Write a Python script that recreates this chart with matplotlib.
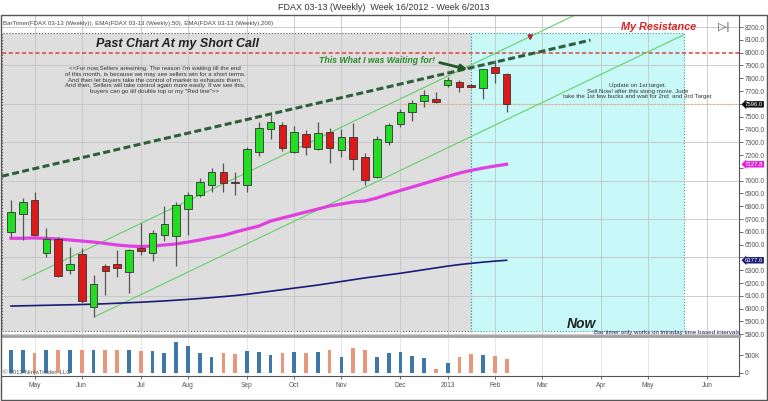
import matplotlib
matplotlib.use("Agg")
import matplotlib.pyplot as plt
from matplotlib.patches import Rectangle
import matplotlib.transforms as mtransforms

plt.rcParams['font.family'] = ['Liberation Sans', 'DejaVu Sans']

# weekly FDAX bars, week 16/2012 .. week 6/2013 (bar index 0..42)
opens = [6601, 6737, 6848, 6432, 6544, 6302, 6427, 6010, 6333, 6349, 6288, 6471, 6432, 6575, 6567,
         6778, 6887, 6966, 7070, 6987, 6966, 7226, 7401, 7434, 7226, 7364, 7247, 7382, 7239, 7338,
         7182, 7026, 7304, 7442, 7536, 7622, 7635, 7747, 7773, 7747, 7721, 7885, 7833]
closes = [6757, 6835, 6575, 6544, 6255, 6346, 6059, 6190, 6296, 6317, 6458, 6452, 6593, 6659, 6809,
          6887, 6987, 7070, 6984, 6980, 7245, 7413, 7455, 7252, 7377, 7265, 7370, 7257, 7338, 7166,
          7005, 7323, 7434, 7538, 7609, 7669, 7616, 7786, 7729, 7729, 7872, 7838, 7596]
highs = [6848, 6862, 6913, 6627, 6562, 6479, 6471, 6262, 6349, 6458, 6465, 6671, 6614, 6802, 6835,
         6913, 7018, 7096, 7135, 7070, 7265, 7460, 7513, 7455, 7427, 7395, 7460, 7409, 7401, 7452,
         7218, 7348, 7452, 7557, 7630, 7708, 7690, 7812, 7786, 7755, 7875, 7942, 7840]
lows = [6562, 6536, 6570, 6401, 6250, 6270, 6041, 5937, 6106, 6249, 6124, 6419, 6374, 6530, 6333,
        6575, 6870, 6913, 6913, 6887, 6913, 7192, 7323, 7234, 7218, 7200, 7239, 7135, 7187, 7083,
        6966, 7020, 7278, 7421, 7468, 7577, 7610, 7731, 7690, 7720, 7635, 7765, 7538]
volume_k = [653, 653, 577, 653, 653, 653, 653, 653, 653, 653, 653, 624, 624, 577, 875, 778, 557,
            461, 557, 528, 624, 586, 509, 577, 605, 557, 586, 653, 461, 701, 653, 461, 557, 605,
            490, 413, 96, 269, 442, 538, 509, 490, 384]
ema50 = [6549, 6550, 6552, 6548, 6544, 6536, 6528, 6520, 6509, 6497, 6489, 6485, 6489, 6497, 6505,
         6520, 6536, 6555, 6571, 6598, 6622, 6645, 6684, 6708, 6731, 6755, 6778, 6802, 6817, 6833,
         6841, 6864, 6895, 6923, 6950, 6977, 7005, 7032, 7059, 7080, 7098, 7114, 7127.8]
ema200 = [6020, 6022, 6024, 6026, 6028, 6030, 6032, 6035, 6038, 6042, 6046, 6050, 6055, 6060, 6066,
          6072, 6079, 6086, 6094, 6102, 6112, 6124, 6136, 6148, 6160, 6172, 6184, 6198, 6212, 6226,
          6240, 6252, 6264, 6276, 6290, 6304, 6318, 6332, 6344, 6354, 6363, 6371, 6377.6]

month_pos = [2, 6, 11, 15, 20, 24, 28, 33, 37, 41, 45, 50, 54, 59]
month_lbl = ['May', 'Jun', 'Jul', 'Aug', 'Sep', 'Oct', 'Nov', 'Dec', '2013', 'Feb', 'Mar', 'Apr', 'May', 'Jun']

# hand drawn lines (bar index, price)
trend_dash = ([-0.76, 49.1], [7035, 8098])
chan_upper = ([1.0, 47.8], [6223, 8294])
chan_lower = ([7.1, 56.95], [5937, 8137])
resistance = 8000

x = list(range(len(opens)))
up = [c >= o for o, c in zip(opens, closes)]

fig = plt.figure(figsize=(7.68, 4.01), dpi=100)
W, H = 768.0, 401.0
ax = fig.add_axes([2 / W, 1 - 336 / H, 737 / W, 321 / H])
axv = fig.add_axes([2 / W, 1 - 376 / H, 737 / W, 38 / H], sharex=ax)

# outer frame
fig.patches.append(Rectangle((1 / W, 1 / H), 766 / W, 385 / H, transform=fig.transFigure,
                             fill=False, ec='#555555', lw=1))
fig.text(0.5, 1 - 7 / H, 'FDAX 03-13 (Weekly)  Week 16/2012 - Week 6/2013', ha='center', va='center',
         fontsize=6.5, color='#333333')

ax.set_xlim(-0.76, 61.69)
ax.set_ylim(5786, 8294)
axv.set_ylim(-95000, 997000)

# shaded zones
ax.add_patch(Rectangle((-0.76, 5825), 39.76, 8153 - 5825, fc='#dedede', ec='#555555', ls=':', lw=0.8, zorder=0.5))
ax.add_patch(Rectangle((39, 5825), 18, 8153 - 5825, fc='#c8f8f8', ec='#3a9a9a', ls=':', lw=0.8, zorder=0.5))

for p in month_pos:
    ax.axvline(p, color='#c4c4c4', lw=0.6, zorder=0.8)
    axv.axvline(p, color='#e2e2e2', lw=0.6, zorder=0.5)
for lvl in range(5800, 8300, 300):
    ax.axhline(lvl, color='#c4c4c4', lw=0.6, zorder=0.8)

ax.axhline(resistance, color='#e05050', lw=1.2, ls=(0, (2.5, 1.5)), zorder=2)
ax.plot([33, 61.69], [closes[-1], closes[-1]], color='#f0b070', lw=1, ls=':', zorder=2)

ax.plot(*chan_upper, color='#66d066', lw=0.8, zorder=2)
ax.plot(*chan_lower, color='#66d066', lw=0.8, zorder=2)
ax.plot(*trend_dash, color='#2f5f3a', lw=2.2, ls=(0, (2.3, 1.1)), zorder=2)

ax.plot(x, ema50, color='#e040e0', lw=2.3, zorder=3)
ax.plot(x, ema200, color='#1c1c78', lw=1.2, zorder=3)

# candles
ax.vlines(x, lows, highs, color='#555555', lw=0.9, zorder=4)
bottoms = [min(o, c) for o, c in zip(opens, closes)]
heights = [max(abs(c - o), 12) for o, c in zip(opens, closes)]
cols = ['#22dd22' if u else '#dd1a1a' for u in up]
ax.bar(x, heights, bottom=bottoms, width=0.65, color=cols, edgecolor='#333333', lw=0.6, zorder=5)

# volume
vcols = ['#3d78a8' if u else '#e8967c' for u in up]
axv.bar(x, [v * 1000 for v in volume_k], width=0.32, color=vcols, zorder=2)

# annotations
ax.text(14.1, 8067, 'Past Chart At my Short Call', ha='center', va='center', fontsize=9,
        fontweight='bold', fontstyle='italic', color='#222222', zorder=6)
note = ('<<For now,Sellers arewining. The reason I\'m waiting till the end\n'
        'of this month, is because we may see sellers win for a short terms.\n'
        'And then let buyers take the control of market to exhausts them.\n'
        'And then, Sellers will take control again more easily. If we see this,\n'
        'buyers can go till double top or my "Red line">>')
ax.text(12.2, 7786, note, ha='center', va='center', fontsize=4.4, color='#333333',
        linespacing=1.2, zorder=6)
ax.text(31.0, 7937, 'This What I was Waiting for!', ha='center', va='center', fontsize=6.3,
        fontweight='bold', fontstyle='italic', color='#2a8a2a', zorder=6)
ax.annotate('', xy=(38.9, 7864), xytext=(36.1, 7927),
            arrowprops=dict(arrowstyle='-|>', color='#1f5a2a', lw=2, mutation_scale=9), zorder=6)
ax.annotate('', xy=(44.0, 8070), xytext=(44.0, 8155),
            arrowprops=dict(arrowstyle='-|>', color='#a83030', lw=1.5, mutation_scale=6), zorder=6)
ax.text(54.9, 8200, 'My Resistance', ha='center', va='center', fontsize=7.8,
        fontweight='bold', fontstyle='italic', color='#d42a2a', zorder=6)
ax.text(60.4, 8200, '\u25b7|', ha='center', va='center', fontsize=8, color='#555555', zorder=6)
upd = ('Update on 1st target.\n'
       'Sell Now! after this stong move. Jude\n'
       'take the 1st few bucks and wait for 2nd  and 3rd Target')
ax.text(53.1, 7700, upd, ha='center', va='center', fontsize=4.4, color='#333333',
        linespacing=1.15, zorder=6)
ax.text(48.3, 5822, 'Now', ha='center', va='bottom', fontsize=10,
        fontweight='bold', fontstyle='italic', color='#222222', zorder=6)
ax.text(55.6, 5795, 'Bar timer only works on intraday time based intervals', ha='center', va='bottom',
        fontsize=4.5, color='#1c1c60', zorder=6)
ax.text(0.002, 0.975, 'BarTimer(FDAX 03-13 (Weekly)), EMA(FDAX 03-13 (Weekly),50), EMA(FDAX 03-13 (Weekly),200)',
        transform=ax.transAxes, ha='left', va='center', fontsize=4.4, color='#444444')
axv.text(0.002, 0.1, '\u00a9 2013 NinjaTrader, LLC', transform=axv.transAxes, ha='left', va='center',
         fontsize=4.4, color='#555555', zorder=6)

# price tags on the axis (they hide the tick label right under them)
tags = [(closes[-1], '#111111'), (ema50[-1], '#e020e0'), (ema200[-1], '#1c1c78')]
trans = mtransforms.blended_transform_factory(ax.transAxes, ax.transData)
for val, fc in tags:
    ax.text(1.008, val, '%.1f' % val, transform=trans, ha='left', va='center', fontsize=4.3, color='white',
            bbox=dict(boxstyle='larrow,pad=0.12', fc=fc, ec='none'), zorder=10, clip_on=False)

# axes styling
for a in (ax, axv):
    a.set_facecolor('white')
    a.spines['top'].set_visible(False)
    a.spines['left'].set_visible(False)
    a.spines['right'].set_color('#555555')
    a.yaxis.tick_right()
    a.tick_params(axis='y', direction='out', length=3, width=0.6, colors='#555555', labelsize=4.8, pad=1)
ax.spines['bottom'].set_color('#a0a0a0')
ax.spines['bottom'].set_linewidth(2)
axv.spines['bottom'].set_color('#555555')

yt = list(range(5800, 8300, 100))
hidden = [v for v in yt if any(abs(v - t) < 30 for t, _ in tags)]
ax.set_yticks(yt)
ax.set_yticklabels(['' if v in hidden else '%.1f' % v for v in yt])
ax.tick_params(axis='x', bottom=False, labelbottom=False)
axv.set_yticks([0, 500000])
axv.set_yticklabels(['0', '500K'])
axv.set_xticks(month_pos)
axv.set_xticklabels(month_lbl)
axv.tick_params(axis='x', direction='out', length=2, width=0.6, colors='#555555', labelsize=4.8, pad=2)

fig.savefig('out.png', dpi=100)
